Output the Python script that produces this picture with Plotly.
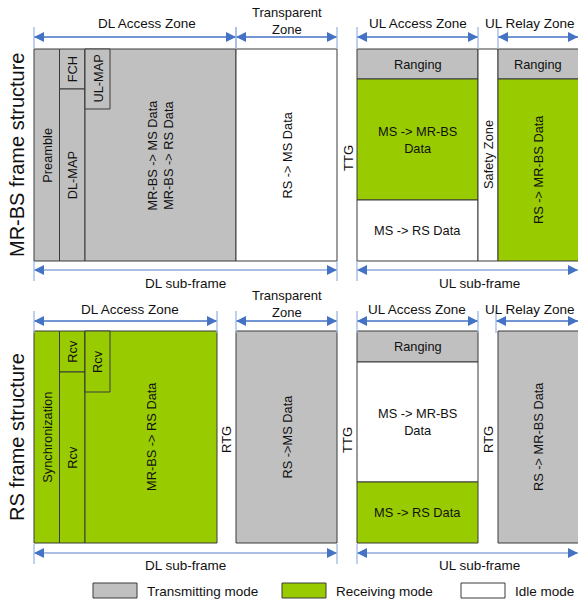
import plotly.graph_objects as go

# ---------------- data ----------------
MODES = ["Transmitting mode", "Receiving mode", "Idle mode"]
MODE_COLORS = {"T": "#C0C0C0", "R": "#99CC00", "I": "#FFFFFF"}

# time axis boundaries (diagram units)
t_start = 34
t_fch = 59.5
t_ulmap = 85
t_ulmap_end = 110
t_rs_dl_end = 217
t_dl_access_end = 236
t_dl_end = 337
t_ul_start = 357
t_ul_access_end = 478
t_relay_start = 498
t_end = 582

# MR-BS blocks: (x0, x1, y0, y1, mode, label, rotated)
mrbs_blocks = [
    (t_start, t_fch, 49, 261, "T", "Preamble", True),
    (t_fch, t_ulmap, 49, 89, "T", "FCH", True),
    (t_fch, t_ulmap, 89, 261, "T", "DL-MAP", True),
    (t_ulmap, t_dl_access_end, 49, 261, "T", "MR-BS -> MS Data<br>MR-BS -> RS Data", True),
    (t_ulmap, t_ulmap_end, 49, 109, "T", "UL-MAP", True),
    (t_dl_access_end, t_dl_end, 49, 261, "I", "RS -> MS Data", True),
    (t_ul_start, t_ul_access_end, 49, 79, "T", "Ranging", False),
    (t_ul_start, t_ul_access_end, 79, 200, "R", "MS -> MR-BS<br>Data", False),
    (t_ul_start, t_ul_access_end, 200, 261, "I", "MS -> RS Data", False),
    (t_ul_access_end, t_relay_start, 49, 261, "I", "Safety Zone", True),
    (t_relay_start, t_end, 49, 79, "T", "Ranging", False),
    (t_relay_start, t_end, 79, 261, "R", "RS -> MR-BS Data", True),
]
rs_blocks = [
    (t_start, t_fch, 331, 543, "R", "Synchronization", True),
    (t_fch, t_ulmap, 331, 372, "R", "Rcv", True),
    (t_fch, t_ulmap, 372, 543, "R", "Rcv", True),
    (t_ulmap, t_rs_dl_end, 331, 543, "R", "MR-BS -> RS Data", True),
    (t_ulmap, t_ulmap_end, 331, 392, "R", "Rcv", True),
    (t_dl_access_end, t_dl_end, 331, 543, "T", "RS ->MS Data", True),
    (t_ul_start, t_ul_access_end, 331, 362, "T", "Ranging", False),
    (t_ul_start, t_ul_access_end, 362, 482, "I", "MS -> MR-BS<br>Data", False),
    (t_ul_start, t_ul_access_end, 482, 543, "R", "MS -> RS Data", False),
    (t_relay_start, t_end, 331, 543, "T", "RS -> MR-BS Data", True),
]
# gap labels: (x, y, label)
gap_labels = [
    (348, 158, "TTG"),
    (226, 440, "RTG"),
    (347, 440, "TTG"),
    (488, 440, "RTG"),
]
# zone arrows: (x0, x1, y, label, label_x, label_y, anchor)
zone_arrows = [
    (34, 236, 37, "DL Access Zone", 147, 23, "center"),
    (236, 337, 37, "Transparent<br>Zone", 287, 21, "center"),
    (357, 478, 37, "UL Access Zone", 418, 23, "center"),
    (498, 578, 37, "UL Relay Zone", 577, 23, "right"),
    (34, 217, 321, "DL Access Zone", 130, 309, "center"),
    (236, 337, 321, "Transparent<br>Zone", 287, 304, "center"),
    (357, 478, 321, "UL Access Zone", 417, 309, "center"),
    (496, 578, 321, "UL Relay Zone", 577, 309, "right"),
]
subframe_arrows = [
    (34, 337, 270, "DL sub-frame", 185, 283),
    (357, 578, 270, "UL sub-frame", 479, 283),
    (34, 337, 553, "DL sub-frame", 185, 565),
    (357, 578, 553, "UL sub-frame", 479, 565),
]
titles = [("MR-BS frame structure", 17, 155), ("RS frame structure", 17, 437)]

# ---------------- figure ----------------
FONT = "Liberation Sans, Arial, sans-serif"
ARROW = "#4472C4"
TICK = "#9DB9E3"
TXT = "#111111"
shapes, annots = [], []

def add_block(b):
    x0, x1, y0, y1, m, lab, rot = b
    shapes.append(dict(type="rect", x0=x0, x1=x1, y0=y0, y1=y1,
                       fillcolor=MODE_COLORS[m], line=dict(color="#3A3A3A", width=1), layer="above"))

def add_block_label(b):
    x0, x1, y0, y1, m, lab, rot = b
    xr = min(x1, 578)
    annots.append(dict(x=(x0 + xr) / 2, y=(y0 + y1) / 2,
                       text=lab, showarrow=False, textangle=-90 if rot else 0,
                       font=dict(family=FONT, size=12.8, color=TXT),
                       xanchor="center", yanchor="middle"))

for b in mrbs_blocks + rs_blocks:
    add_block(b)
for b in mrbs_blocks + rs_blocks:
    add_block_label(b)

for x, y, lab in gap_labels:
    annots.append(dict(x=x, y=y, text=lab, showarrow=False, textangle=-90,
                       font=dict(family=FONT, size=13, color=TXT)))

def head(xtip, y, direction, color):
    L, H = 10, 5
    xb = xtip - direction * L
    shapes.append(dict(type="path", path=f"M {xtip},{y} L {xb},{y - H} L {xb},{y + H} Z",
                       fillcolor=color, line=dict(width=0), layer="above"))

def arrow(x0, x1, y, line_color, t0, t1):
    shapes.append(dict(type="line", x0=x0, x1=x1, y0=y, y1=y,
                       line=dict(color=line_color, width=1.3), layer="above"))
    head(x0, y, -1, ARROW)
    head(x1, y, 1, ARROW)
    for xt in (x0, x1):
        if xt < 577:
            shapes.append(dict(type="line", x0=xt, x1=xt, y0=t0, y1=t1,
                               line=dict(color=TICK, width=1.3), layer="above"))

for x0, x1, y, lab, lx, ly, anc in zone_arrows:
    arrow(x0, x1, y, ARROW, y - 10, y + 12)
    annots.append(dict(x=lx, y=ly, text=lab, showarrow=False, xanchor=anc,
                       font=dict(family=FONT, size=13.5 if "<br>" not in lab else 13, color=TXT)))
for x0, x1, y, lab, lx, ly in subframe_arrows:
    arrow(x0, x1, y, "#8FAADC", y - 9, y + 11)
    annots.append(dict(x=lx, y=ly, text=lab, showarrow=False,
                       font=dict(family=FONT, size=13.5, color=TXT)))

for lab, x, y in titles:
    annots.append(dict(x=x, y=y, text=lab, showarrow=False, textangle=-90,
                       font=dict(family=FONT, size=20, color=TXT)))

# legend
legend_x = [93, 282, 461]
for mode, lx, key in zip(MODES, legend_x, ["T", "R", "I"]):
    shapes.append(dict(type="rect", x0=lx, x1=lx + 44, y0=583, y1=598,
                       fillcolor=MODE_COLORS[key], line=dict(color="#3A3A3A", width=1)))
    annots.append(dict(x=lx + 52, y=591, text=mode, showarrow=False, xanchor="left",
                       font=dict(family=FONT, size=13.5, color=TXT)))

fig = go.Figure()
fig.update_layout(
    width=578, height=602, margin=dict(l=0, r=0, t=0, b=0),
    paper_bgcolor="white", plot_bgcolor="white",
    xaxis=dict(range=[0, 578], visible=False, fixedrange=True),
    yaxis=dict(range=[602, 0], visible=False, fixedrange=True),
    shapes=shapes, annotations=annots, showlegend=False,
)
# remove the page's default body margin so the figure fills the window
fig.write_html("out.html", config={"displayModeBar": False},
               post_script="document.body.style.margin='0';document.body.style.overflow='hidden';")
